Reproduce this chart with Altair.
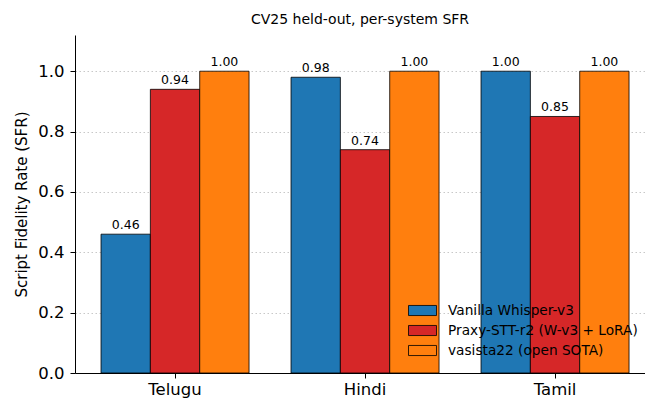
import altair as alt
import pandas as pd

languages = ["Telugu", "Hindi", "Tamil"]
systems = ["Vanilla Whisper-v3", "Praxy-STT-r2 (W-v3 + LoRA)", "vasista22 (open SOTA)"]
colors = ["#1f77b4", "#d62728", "#ff7f0e"]
vanilla = [0.46, 0.98, 1.00]
praxy = [0.94, 0.74, 0.85]
vasista = [1.00, 1.00, 1.00]

rows = []
for i, lang in enumerate(languages):
    for s, vals in zip(systems, [vanilla, praxy, vasista]):
        rows.append({"language": lang, "system": s, "sfr": vals[i], "label": f"{vals[i]:.2f}"})
df = pd.DataFrame(rows)

font = "DejaVu Sans"

x = alt.X("language:N", sort=languages, title=None,
          scale=alt.Scale(paddingInner=0.221, paddingOuter=0.1105, align=0.62),
          axis=alt.Axis(labelAngle=0, labelFontSize=16.5, labelColor="black",
                        tickColor="black", domainColor="black", tickSize=5,
                        labelPadding=3, grid=False))
xo = alt.XOffset("system:N", sort=systems)
y = alt.Y("sfr:Q", title="Script Fidelity Rate (SFR)",
          scale=alt.Scale(domain=[0, 1.12], nice=False),
          axis=alt.Axis(values=[0, 0.2, 0.4, 0.6, 0.8, 1.0], format=".1f",
                        labelFontSize=16.5, titleFontSize=15, titleFontWeight="normal",
                        labelColor="black", titleColor="black",
                        tickColor="black", domainColor="black", tickSize=5,
                        labelPadding=6,
                        grid=True, gridDash=[1.5, 2.5], gridColor="#c8c8c8",
                        titlePadding=8))

bars = alt.Chart(df).mark_bar(stroke="black", strokeWidth=0.8).encode(
    x=x, xOffset=xo, y=y,
    color=alt.Color("system:N", sort=systems,
                    scale=alt.Scale(domain=systems, range=colors),
                    legend=alt.Legend(title=None, orient="none", legendX=340, legendY=268,
                                      padding=0, labelLimit=400,
                                      labelFontSize=13.7, labelColor="black",
                                      symbolType="M-2,-0.72H2V0.72H-2Z",
                                      symbolSize=196, symbolStrokeColor="black",
                                      symbolStrokeWidth=0.8, rowPadding=5,
                                      labelOffset=18)),
)

text = alt.Chart(df).mark_text(baseline="alphabetic", dy=-5, fontSize=12.5, color="black", font=font).encode(
    x=x, xOffset=xo, y=y, text="label:N"
)

chart = (bars + text).properties(
    width=570, height=338,
    title=alt.Title("CV25 held-out, per-system SFR", fontSize=14, fontWeight="normal", color="black", offset=8),
    autosize=alt.AutoSizeParams(type="none"),
    padding={"left": 67, "top": 27, "right": 0, "bottom": 28},
).configure(font=font).configure_view(stroke=None).configure_axis(labelFont=font, titleFont=font)

chart.save("out.html", embed_options={"renderer": "svg", "actions": False})
